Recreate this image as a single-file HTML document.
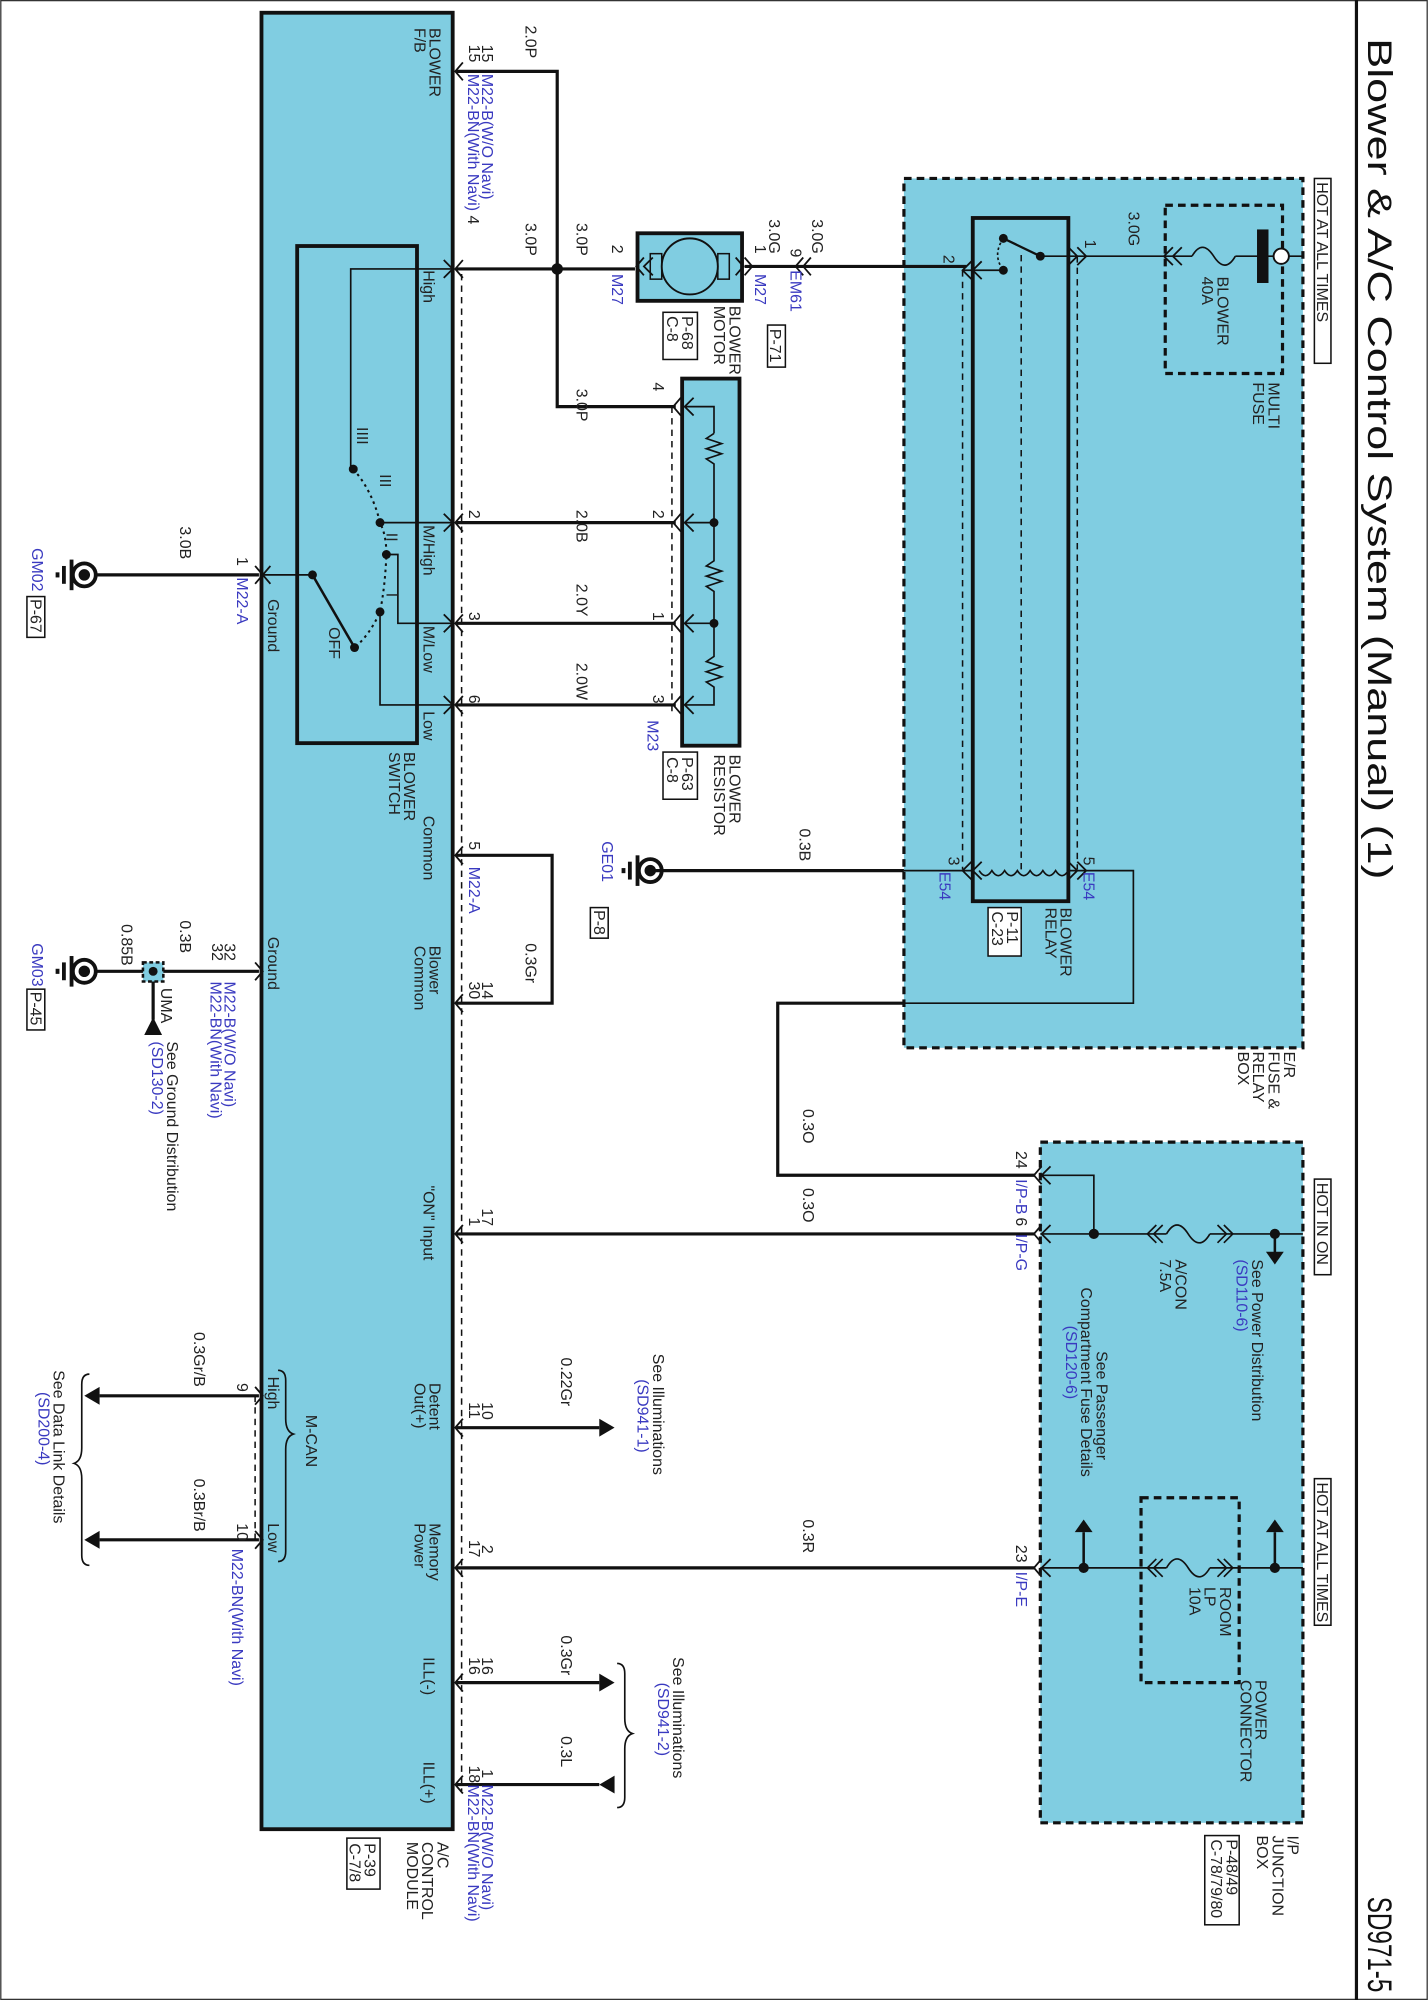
<!DOCTYPE html>
<html><head><meta charset="utf-8"><style>
html,body{margin:0;padding:0;background:#fff;}
svg{display:block;}
text{font-family:"Liberation Sans",Arial,sans-serif;font-size:12.5px;font-weight:400;fill:#222;stroke:none;}
.b{fill:#3a3ac0;}
.t{font-size:27px;font-weight:400;fill:#111;}
</style></head><body>
<svg width="1428" height="2000" viewBox="0 0 1120 1569" xmlns="http://www.w3.org/2000/svg">
<rect x="0.5" y="0.5" width="1119" height="1568" fill="#fff" stroke="#333" stroke-width="1"/>
<line x1="1064" y1="0" x2="1064" y2="1569" stroke="#111" stroke-width="2.5"/>

<rect x="709" y="140" width="313" height="682" fill="#80cde1" stroke="#111" stroke-width="2.5" stroke-dasharray="6,4"/>
<rect x="816" y="896" width="206" height="534" fill="#80cde1" stroke="#111" stroke-width="2.5" stroke-dasharray="6,4"/>
<rect x="914" y="161" width="92" height="132" fill="none" stroke="#111" stroke-width="2.5" stroke-dasharray="6,4"/>
<rect x="895" y="1175" width="77" height="145" fill="none" stroke="#111" stroke-width="2.5" stroke-dasharray="6,4"/>

<rect x="205" y="10" width="150" height="1425" fill="#80cde1" stroke="#111" stroke-width="3"/>
<rect x="233" y="193" width="94" height="390" fill="none" stroke="#111" stroke-width="3"/>
<rect x="500" y="183" width="82" height="53" fill="#80cde1" stroke="#111" stroke-width="3"/>
<circle cx="541" cy="209" r="22" fill="none" stroke="#111" stroke-width="1.5"/>
<rect x="510" y="199" width="9" height="20" fill="none" stroke="#111" stroke-width="1.2"/>
<rect x="563" y="199" width="9" height="20" fill="none" stroke="#111" stroke-width="1.2"/>
<rect x="535" y="297" width="45" height="288" fill="#80cde1" stroke="#111" stroke-width="3"/>
<rect x="763" y="171" width="75" height="536" fill="#80cde1" stroke="#111" stroke-width="3"/>

<g stroke="#111" fill="none">
<g stroke-width="1.2" stroke-dasharray="5,4">
<line x1="362" y1="215" x2="362" y2="1405"/>
<line x1="527" y1="319" x2="527" y2="560"/>
<line x1="755" y1="212" x2="755" y2="682"/>
<line x1="801" y1="200" x2="801" y2="682"/>
<line x1="845" y1="201" x2="845" y2="682"/>
<line x1="200" y1="1095" x2="200" y2="1208"/>
</g>
<g stroke-width="2.5">
<polyline points="358,56 437,56 437,319 530,319"/>
<line x1="358" y1="211" x2="498" y2="211"/>
<line x1="584" y1="209" x2="758" y2="209"/>
<line x1="358" y1="410" x2="530" y2="410"/>
<line x1="358" y1="489" x2="530" y2="489"/>
<line x1="358" y1="553" x2="530" y2="553"/>
<polyline points="358,671 433,671 433,787 358,787"/>
<line x1="508" y1="683" x2="709" y2="683"/>
<polyline points="709,787 610,787 610,922 812,922"/>
<line x1="358" y1="968" x2="812" y2="968"/>
<line x1="358" y1="1230" x2="812" y2="1230"/>
<line x1="358" y1="1120" x2="470" y2="1120"/>
<line x1="358" y1="1320" x2="470" y2="1320"/>
<line x1="358" y1="1400" x2="470" y2="1400"/>
<line x1="76" y1="451" x2="203" y2="451"/>
<line x1="76" y1="762" x2="203" y2="762"/>
<line x1="120" y1="762" x2="120" y2="800"/>
<line x1="78" y1="1095" x2="203" y2="1095"/>
<line x1="78" y1="1208" x2="203" y2="1208"/>
</g>
<g stroke-width="1.3">
<polyline points="355,211 275,211 275,368"/>
<line x1="298" y1="410" x2="355" y2="410"/>
<polyline points="303,435 312,435 312,489 355,489"/>
<polyline points="298,480 298,553 355,553"/>
<line x1="207" y1="451" x2="245" y2="451"/>
<line x1="245" y1="451" x2="278" y2="508" stroke-width="2"/>
<path d="M277,368 Q292,385 298,410 Q303,420 303,435 Q302,460 298,480 Q290,498 278,508" stroke-dasharray="2,3" stroke-width="1.6"/>
<polyline points="537,319 560,319 560,340"/>
<path d="M560,340 l-6,4 l12,4 l-12,4 l12,4 l-12,4 l6,4 L560,410 L560,440 l-6,4 l12,4 l-12,4 l12,4 l-12,4 l6,4 L560,489 L560,515 l-6,4 l12,4 l-12,4 l12,4 l-12,4 l6,4 L560,553 L537,553"/>
<line x1="537" y1="410" x2="560" y2="410"/>
<line x1="537" y1="489" x2="560" y2="489"/>
<line x1="755" y1="212" x2="787" y2="212"/>
<line x1="787" y1="187" x2="816" y2="201" stroke-width="1.8"/>
<path d="M787,187 Q778,200 787,212" stroke-dasharray="2,2"/>
<line x1="816" y1="201" x2="845" y2="201"/>
<line x1="845" y1="201" x2="914" y2="201"/>
<line x1="914" y1="201" x2="935" y2="201"/>
<path d="M935,201 q8,-14 17,0 q9,14 17,0"/>
<line x1="969" y1="201" x2="1022" y2="201"/>
<line x1="709" y1="683" x2="763" y2="683"/>
<path d="M768,683 q5,8 10,0 q5,8 10,0 q5,8 10,0 q5,8 10,0 q5,8 10,0 q5,8 10,0 q5,8 10,0"/>
<polyline points="838,683 889,683 889,787 709,787"/>
<polyline points="816,922 858,922 858,968"/>
<line x1="816" y1="968" x2="915" y2="968"/>
<path d="M915,968 q8,-14 17,0 q9,14 17,0"/>
<line x1="949" y1="968" x2="1022" y2="968"/>
<line x1="816" y1="1230" x2="915" y2="1230"/>
<path d="M915,1230 q8,-14 17,0 q9,14 17,0"/>
<line x1="949" y1="1230" x2="1022" y2="1230"/>
<line x1="1000" y1="968" x2="1000" y2="985" stroke-width="2"/>
<line x1="1000" y1="1230" x2="1000" y2="1202" stroke-width="2"/>
<line x1="850" y1="1230" x2="850" y2="1202" stroke-width="2"/>
<path d="M912,961 l-7,7 l7,7 M907,961 l-7,7 l7,7 M955,961 l7,7 l-7,7 M960,961 l7,7 l-7,7"/>
<path d="M912,1223 l-7,7 l7,7 M907,1223 l-7,7 l7,7 M955,1223 l7,7 l-7,7 M960,1223 l7,7 l-7,7"/>
<path d="M218,1075 q6,0 6,8 v30 q0,10 6,12 q-6,2 -6,12 v80 q0,8 -6,8"/>
<path d="M70,1078 q-6,0 -6,8 v50 q0,10 -6,12 q6,2 6,12 v60 q0,8 6,8"/>
<path d="M484,1305 q6,0 6,8 v35 q0,10 6,12 q-6,2 -6,12 v38 q0,8 -6,8"/>
</g>
</g>

<g stroke="#111" stroke-width="1.4" fill="none">
<path d="M363,49 l-6,7 l6,7 M363,204 l-6,7 l6,7 M363,403 l-6,7 l6,7 M363,482 l-6,7 l6,7 M363,546 l-6,7 l6,7 M363,664 l-6,7 l6,7 M363,780 l-6,7 l6,7 M363,961 l-6,7 l6,7 M363,1113 l-6,7 l6,7 M363,1223 l-6,7 l6,7 M363,1313 l-6,7 l6,7 M363,1393 l-6,7 l6,7"/>
<path d="M348,204 l7,7 l-7,7 M348,403 l7,7 l-7,7 M348,482 l7,7 l-7,7 M348,546 l7,7 l-7,7"/>
<path d="M200,444 l6,7 l-6,7 M200,755 l6,7 l-6,7 M200,1088 l6,7 l-6,7 M200,1201 l6,7 l-6,7"/>
<path d="M212,444 l-6,7 l6,7"/>
<path d="M534,312 l-6,7 l6,7 M534,403 l-6,7 l6,7 M534,482 l-6,7 l6,7 M534,546 l-6,7 l6,7"/>
<path d="M544,312 l-7,7 l7,7 M544,403 l-7,7 l7,7 M544,482 l-7,7 l7,7 M544,546 l-7,7 l7,7"/>
<path d="M505,202 l-6,7 l6,7 M512,202 l-7,7 l7,7 M577,202 l6,7 l-6,7 M584,202 l6,7 l-6,7"/>
<path d="M630,202 l-6,7 l6,7 M636,202 l-6,7 l6,7"/>
<path d="M762,205 l-7,7 l7,7 M770,205 l-7,7 l7,7 M838,194 l7,7 l-7,7 M845,194 l7,7 l-7,7"/>
<path d="M920,194 l-7,7 l7,7 M927,194 l-7,7 l7,7"/>
<path d="M762,676 l-7,7 l7,7 M770,676 l-7,7 l7,7 M838,676 l7,7 l-7,7 M845,676 l7,7 l-7,7"/>
<path d="M817,915 l-6,7 l6,7 M824,915 l-7,7 l7,7 M817,961 l-6,7 l6,7 M824,961 l-7,7 l7,7 M817,1223 l-6,7 l6,7 M824,1223 l-7,7 l7,7"/>
</g>

<g fill="#111">
<circle cx="437" cy="211" r="4.5"/>
<circle cx="560" cy="410" r="3.5"/><circle cx="560" cy="489" r="3.5"/>
<circle cx="277" cy="368" r="3.5"/><circle cx="298" cy="410" r="3.5"/><circle cx="303" cy="435" r="3.5"/><circle cx="298" cy="480" r="3.5"/><circle cx="278" cy="508" r="3.5"/><circle cx="245" cy="451" r="3.5"/>
<circle cx="787" cy="187" r="3.5"/><circle cx="787" cy="212" r="3.5"/><circle cx="816" cy="201" r="3.5"/>
<circle cx="858" cy="968" r="4"/><circle cx="1000" cy="968" r="4"/><circle cx="1000" cy="1230" r="4"/><circle cx="850" cy="1230" r="4"/>
<rect x="986" y="180" width="9" height="42"/>
<polygon points="470,1113 482,1120 470,1127"/>
<polygon points="470,1313 482,1320 470,1327"/>
<polygon points="482,1393 470,1400 482,1407"/>
<polygon points="78,1088 66,1095 78,1102"/>
<polygon points="78,1201 66,1208 78,1215"/>
<polygon points="993,982 1007,982 1000,992"/>
<polygon points="993,1202 1007,1202 1000,1192"/>
<polygon points="843,1202 857,1202 850,1192"/>
<polygon points="113,812 127,812 120,798"/>
</g>
<circle cx="1005" cy="201" r="6" fill="#fff" stroke="#111" stroke-width="1.5"/>
<rect x="112" y="755" width="16" height="15" fill="#80cde1" stroke="#111" stroke-width="2" stroke-dasharray="3,2"/>
<circle cx="120" cy="762" r="3.5" fill="#111"/>

<g stroke="#111" fill="none">
<circle cx="66" cy="451" r="9" stroke-width="3"/><circle cx="66" cy="451" r="4" fill="#111"/>
<line x1="56" y1="439" x2="56" y2="463" stroke-width="3"/><line x1="50" y1="444" x2="50" y2="458" stroke-width="3"/><line x1="45" y1="449" x2="45" y2="453" stroke-width="3"/>
<circle cx="66" cy="762" r="9" stroke-width="3"/><circle cx="66" cy="762" r="4" fill="#111"/>
<line x1="56" y1="750" x2="56" y2="774" stroke-width="3"/><line x1="50" y1="755" x2="50" y2="769" stroke-width="3"/><line x1="45" y1="760" x2="45" y2="764" stroke-width="3"/>
<circle cx="510" cy="683" r="9" stroke-width="3"/><circle cx="510" cy="683" r="4" fill="#111"/>
<line x1="500" y1="671" x2="500" y2="695" stroke-width="3"/><line x1="494" y1="676" x2="494" y2="690" stroke-width="3"/><line x1="489" y1="681" x2="489" y2="685" stroke-width="3"/>
</g>

<g fill="#fff" stroke="#111" stroke-width="1.2">
<rect x="1031" y="140" width="13" height="145"/>
<rect x="1031" y="925" width="13" height="75"/>
<rect x="1031" y="1160" width="13" height="115"/>
<rect x="520" y="245" width="27" height="37"/>
<rect x="520" y="590" width="27" height="37"/>
<rect x="602" y="255" width="14" height="33"/>
<rect x="775" y="712" width="26" height="38"/>
<rect x="463" y="712" width="14" height="24"/>
<rect x="21" y="468" width="14" height="32"/>
<rect x="21" y="776" width="14" height="32"/>
<rect x="272" y="1442" width="26" height="40"/>
<rect x="945" y="1440" width="27" height="70"/>
</g>

<g transform="rotate(90)" font-weight="400">
<text class="t" x="30" y="-1073" textLength="660" lengthAdjust="spacingAndGlyphs">Blower &amp; A/C Control System (Manual) (1)</text>
<text class="t" x="1488" y="-1073" textLength="75" lengthAdjust="spacingAndGlyphs">SD971-5</text>
<text x="143" y="-1033">HOT AT ALL TIMES</text>
<text x="928" y="-1033">HOT IN ON</text>
<text x="1163" y="-1033">HOT AT ALL TIMES</text>

<text x="22" y="-337">BLOWER</text><text x="22" y="-325">F/B</text>
<text x="212" y="-332">High</text>
<text x="412" y="-332">M/High</text>
<text x="491" y="-332">M/Low</text>
<text x="558" y="-332">Low</text>
<text x="640" y="-332">Common</text>
<text x="742" y="-337">Blower</text><text x="742" y="-325">Common</text>
<text x="930" y="-332">"ON" Input</text>
<text x="1085" y="-337">Detent</text><text x="1085" y="-325">Out(+)</text>
<text x="1195" y="-337">Memory</text><text x="1195" y="-325">Power</text>
<text x="1300" y="-332">ILL(-)</text>
<text x="1382" y="-332">ILL(+)</text>
<text x="470" y="-210">Ground</text>
<text x="735" y="-210">Ground</text>
<text x="1080" y="-210">High</text>
<text x="1195" y="-210">Low</text>
<text x="1110" y="-240">M-CAN</text>
<text x="1445" y="-343">A/C</text><text x="1445" y="-331">CONTROL</text><text x="1445" y="-319">MODULE</text>
<text x="1446" y="-286">P-39</text><text x="1446" y="-274">C-7/8</text>

<text x="590" y="-317">BLOWER</text><text x="590" y="-305">SWITCH</text>
<text x="335" y="-280">IIII</text><text x="372" y="-298">III</text><text x="418" y="-303">II</text><text x="465" y="-303">I</text>
<text x="492" y="-258">OFF</text>

<text x="35" y="-378">15</text><text x="35" y="-368">15</text>
<text class="b" x="58" y="-378">M22-B(W/O Navi)</text>
<text x="58" y="-367"><tspan class="b">M22-BN(With Navi)</tspan> 4</text>
<text x="20" y="-412">2.0P</text>
<text x="175" y="-412">3.0P</text>
<text x="175" y="-452">3.0P</text>
<text x="192" y="-480">2</text>
<text class="b" x="215" y="-480">M27</text>
<text x="192" y="-592">1</text>
<text class="b" x="215" y="-592">M27</text>
<text x="240" y="-572">BLOWER</text><text x="240" y="-560">MOTOR</text>
<text x="248" y="-535">P-68</text><text x="248" y="-523">C-8</text>
<text x="172" y="-603">3.0G</text>
<text x="172" y="-637">3.0G</text>
<text x="195" y="-620">9</text>
<text class="b" x="212" y="-620">EM61</text>
<text x="258" y="-604">P-71</text>
<text x="200" y="-740">2</text>
<text x="188" y="-851">1</text>
<text x="166" y="-885">3.0G</text>
<text x="217" y="-955">BLOWER</text><text x="217" y="-943">40A</text>
<text x="300" y="-995">MULTI</text><text x="300" y="-983">FUSE</text>
<text x="825" y="-1007">E/R</text><text x="825" y="-995">FUSE &amp;</text><text x="825" y="-983">RELAY</text><text x="825" y="-971">BOX</text>

<text x="305" y="-452">3.0P</text>
<text x="300" y="-512">4</text>
<text x="400" y="-368">2</text><text x="400" y="-452">2.0B</text><text x="400" y="-512">2</text>
<text x="480" y="-368">3</text><text x="458" y="-452">2.0Y</text><text x="480" y="-512">1</text>
<text x="545" y="-368">6</text><text x="520" y="-452">2.0W</text><text x="545" y="-512">3</text>
<text class="b" x="565" y="-508">M23</text>
<text x="592" y="-572">BLOWER</text><text x="592" y="-560">RESISTOR</text>
<text x="594" y="-535">P-63</text><text x="594" y="-523">C-8</text>

<text x="660" y="-368">5</text><text class="b" x="680" y="-368">M22-A</text>
<text x="740" y="-412">0.3Gr</text>
<text x="770" y="-378">14</text><text x="770" y="-368">30</text>

<text x="650" y="-627">0.3B</text>
<text class="b" x="660" y="-472">GE01</text>
<text x="714" y="-466">P-8</text>
<text x="672" y="-744">3</text><text class="b" x="684" y="-737">E54</text>
<text x="672" y="-850">5</text><text class="b" x="684" y="-850">E54</text>
<text x="712" y="-832">BLOWER</text><text x="712" y="-820">RELAY</text>
<text x="715" y="-790">P-11</text><text x="715" y="-778">C-23</text>

<text x="413" y="-141">3.0B</text>
<text x="437" y="-186">1</text><text class="b" x="453" y="-186">M22-A</text>
<text class="b" x="430" y="-25">GM02</text><text x="470" y="-24">P-67</text>
<text x="722" y="-141">0.3B</text>
<text x="725" y="-95">0.85B</text>
<text x="740" y="-176">32</text><text x="740" y="-166">32</text>
<text class="b" x="770" y="-176">M22-B(W/O Navi)</text>
<text class="b" x="770" y="-165">M22-BN(With Navi)</text>
<text x="775" y="-126">UMA</text>
<text x="817" y="-131">See Ground Distribution</text>
<text class="b" x="817" y="-119">(SD130-2)</text>
<text class="b" x="740" y="-25">GM03</text><text x="778" y="-24">P-45</text>

<text x="932" y="-630">0.3O</text>
<text x="870" y="-630">0.3O</text>
<text x="903" y="-797">24</text><text class="b" x="925" y="-797">I/P-B</text>
<text x="955" y="-797">6</text><text class="b" x="968" y="-797">I/P-G</text>
<text x="948" y="-378">17</text><text x="955" y="-368">1</text>
<text x="988" y="-922">A/CON</text><text x="988" y="-910">7.5A</text>
<text x="988" y="-982">See Power Distribution</text>
<text class="b" x="988" y="-970">(SD110-6)</text>
<text x="1060" y="-860">See Passenger</text>
<text x="1010" y="-848">Compartment Fuse Details</text>
<text class="b" x="1040" y="-836">(SD120-6)</text>
<text x="1245" y="-957">ROOM</text><text x="1245" y="-945">LP</text><text x="1245" y="-933">10A</text>
<text x="1318" y="-985">POWER</text><text x="1318" y="-973">CONNECTOR</text>
<text x="1440" y="-1010">I/P</text><text x="1440" y="-998">JUNCTION</text><text x="1440" y="-986">BOX</text>
<text x="1443" y="-962">P-48/49</text><text x="1443" y="-950">C-78/79/80</text>
<text x="1192" y="-630">0.3R</text>
<text x="1212" y="-797">23</text><text class="b" x="1233" y="-797">I/P-E</text>
<text x="1212" y="-378">2</text><text x="1208" y="-368">17</text>

<text x="1100" y="-378">10</text><text x="1100" y="-368">11</text>
<text x="1065" y="-440">0.22Gr</text>
<text x="1062" y="-512">See Illuminations</text>
<text class="b" x="1082" y="-500">(SD941-1)</text>
<text x="1300" y="-378">16</text><text x="1300" y="-368">16</text>
<text x="1283" y="-440">0.3Gr</text>
<text x="1388" y="-378">1</text><text x="1385" y="-368">18</text>
<text class="b" x="1400" y="-378">M22-B(W/O Navi)</text>
<text class="b" x="1400" y="-367">M22-BN(With Navi)</text>
<text x="1362" y="-440">0.3L</text>
<text x="1300" y="-528">See Illuminations</text>
<text class="b" x="1320" y="-516">(SD941-2)</text>

<text x="1045" y="-152">0.3Gr/B</text>
<text x="1160" y="-152">0.3Br/B</text>
<text x="1085" y="-186">9</text>
<text x="1195" y="-186">10</text>
<text class="b" x="1215" y="-182">M22-BN(With Navi)</text>
<text x="1075" y="-42">See Data Link Details</text>
<text class="b" x="1092" y="-30">(SD200-4)</text>
</g>
</svg>
</body></html>
